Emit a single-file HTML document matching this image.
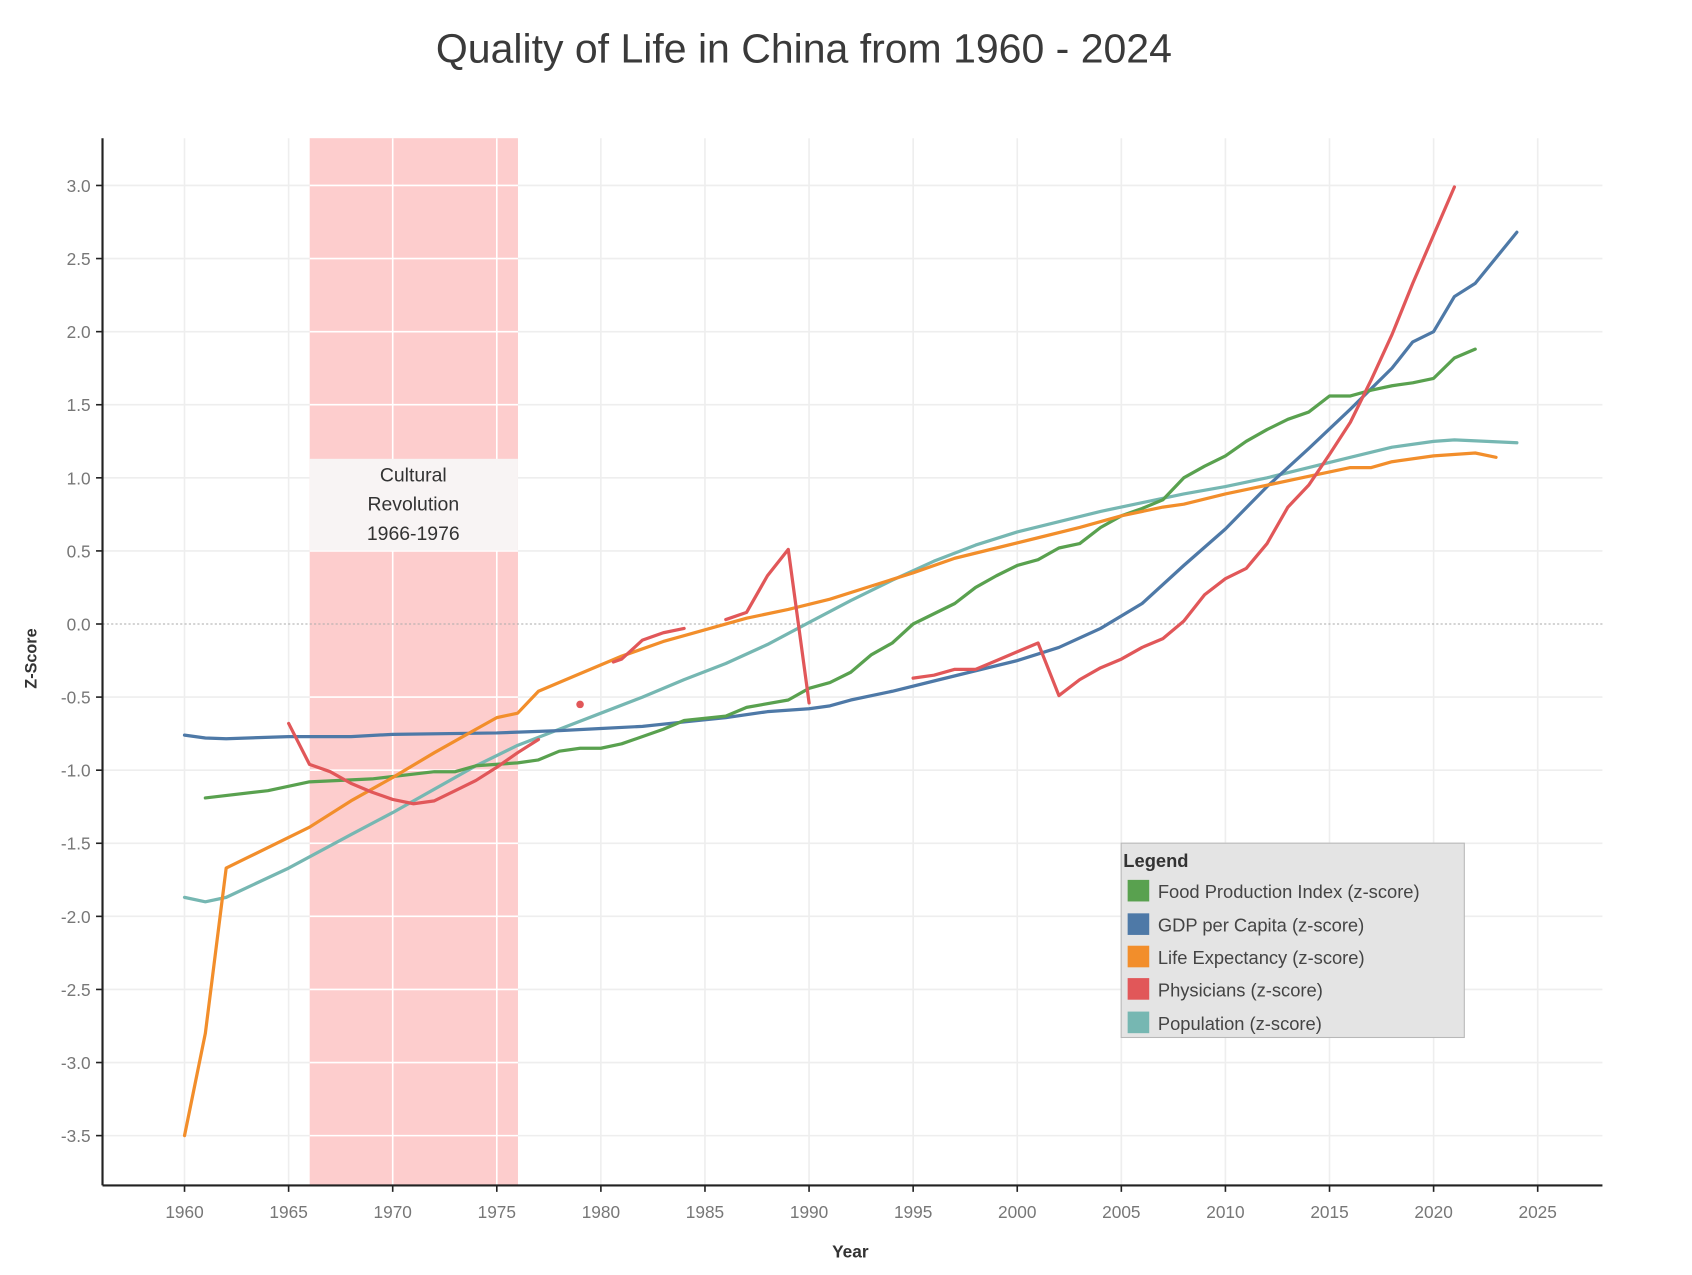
<!DOCTYPE html>
<html><head><meta charset="utf-8"><style>
html,body{margin:0;padding:0;background:#fff;}
svg{display:block;}
</style></head><body>
<svg id="s" width="1692" height="1275" viewBox="0 0 1568 1181" preserveAspectRatio="none" xmlns="http://www.w3.org/2000/svg" font-family="'Liberation Sans', sans-serif">
<rect width="1568" height="1181" fill="#fff"/>
<text x="745" y="58" text-anchor="middle" font-size="38" fill="#3a3a3a">Quality of Life in China from 1960 - 2024</text>
<g id="grid"></g>
<rect x="287" y="128" width="193" height="970" fill="#fdcdcd"/>
<g id="grid2"></g>
<rect x="287" y="425" width="193" height="85" fill="#f8f4f4"/>
<text x="383" y="446" text-anchor="middle" font-size="18" fill="#333">Cultural</text>
<text x="383" y="473" text-anchor="middle" font-size="18" fill="#333">Revolution</text>
<text x="383" y="500" text-anchor="middle" font-size="18" fill="#333">1966-1976</text>
<line x1="95" y1="578" x2="1485" y2="578" stroke="#aaa" stroke-width="1" stroke-dasharray="2,2"/>
<g id="series" fill="none" stroke-width="3" stroke-linejoin="round" stroke-linecap="round"></g>
<line x1="95" y1="128" x2="95" y2="1098" stroke="#222" stroke-width="2"/>
<line x1="95" y1="1098" x2="1485" y2="1098" stroke="#222" stroke-width="2"/>
<g id="ticks"></g>
<text x="788" y="1165" text-anchor="middle" font-size="16" font-weight="bold" fill="#333">Year</text>
<text transform="translate(34,610) rotate(-90)" text-anchor="middle" font-size="15" font-weight="bold" fill="#333">Z-Score</text>
<rect x="1039" y="781" width="318" height="180" fill="#e4e4e4" stroke="#b8b8b8"/>
<text x="1041" y="803" font-size="17" font-weight="bold" fill="#333">Legend</text>
<rect x="1045" y="815" width="20" height="20" fill="#59a14f"/>
<text x="1073" y="832" font-size="17" fill="#444">Food Production Index (z-score)</text>
<rect x="1045" y="846" width="20" height="20" fill="#4e79a7"/>
<text x="1073" y="863" font-size="17" fill="#444">GDP per Capita (z-score)</text>
<rect x="1045" y="876" width="20" height="20" fill="#f28e2b"/>
<text x="1073" y="893" font-size="17" fill="#444">Life Expectancy (z-score)</text>
<rect x="1045" y="906" width="20" height="20" fill="#e15759"/>
<text x="1073" y="923" font-size="17" fill="#444">Physicians (z-score)</text>
<rect x="1045" y="937" width="20" height="20" fill="#76b7b2"/>
<text x="1073" y="954" font-size="17" fill="#444">Population (z-score)</text>
</svg>
<script>
var NS="http://www.w3.org/2000/svg";
function X(y){return 171+(y-1960)*(1425-171)/65;}
function Y(v){return 578-v*135.4;}
function el(p,t,a,txt){var e=document.createElementNS(NS,t);for(var k in a)e.setAttribute(k,a[k]);if(txt!=null)e.textContent=txt;document.getElementById(p).appendChild(e);return e;}
for(var y=1960;y<=2025;y+=5){var gx=X(y);el(y>=1966&&y<=1976?'grid2':'grid','line',{x1:gx,y1:128,x2:gx,y2:1098,stroke:y>=1966&&y<=1976?'#fff':'#eee','stroke-width':1.5});
el('ticks','line',{x1:gx,y1:1098,x2:gx,y2:1104,stroke:'#222','stroke-width':1.5});
el('ticks','text',{x:gx,y:1128,'text-anchor':'middle','font-size':16,fill:'#777'},String(y));}
for(var v=-3.5;v<=3.01;v+=0.5){var gy=Y(v);if(Math.abs(v)>0.01){el('grid','line',{x1:95,y1:gy,x2:1485,y2:gy,stroke:'#eee','stroke-width':1.5});el('grid2','line',{x1:287,y1:gy,x2:480,y2:gy,stroke:'#fff','stroke-width':1.5});}
el('ticks','line',{x1:89,y1:gy,x2:95,y2:gy,stroke:'#222','stroke-width':1.5});
el('ticks','text',{x:84,y:gy+6,'text-anchor':'end','font-size':16,fill:'#777'},v.toFixed(1));}
function path(d,c){var s='';for(var i=0;i<d.length;i+=2)s+=(i?'L':'M')+X(d[i]).toFixed(1)+','+Y(d[i+1]).toFixed(1);el('series','path',{d:s,stroke:c});}
path([1960,-1.87,1961,-1.90,1962,-1.87,1965,-1.67,1968,-1.44,1970,-1.29,1972,-1.13,1974,-0.97,1976,-0.83,1978,-0.72,1980,-0.61,1982,-0.50,1984,-0.38,1986,-0.27,1988,-0.14,1990,0.01,1992,0.16,1994,0.30,1996,0.43,1998,0.54,2000,0.63,2002,0.70,2004,0.77,2006,0.83,2008,0.89,2010,0.94,2012,1.00,2014,1.07,2016,1.14,2018,1.21,2020,1.25,2021,1.26,2024,1.24],'#76b7b2');
path([1960,-0.76,1961,-0.78,1962,-0.785,1965,-0.77,1968,-0.77,1970,-0.755,1975,-0.745,1978,-0.73,1980,-0.715,1982,-0.70,1984,-0.67,1986,-0.64,1988,-0.60,1990,-0.58,1991,-0.56,1992,-0.52,1994,-0.46,1996,-0.39,1998,-0.32,2000,-0.25,2002,-0.16,2004,-0.03,2006,0.14,2008,0.40,2010,0.65,2012,0.94,2014,1.20,2016,1.47,2018,1.75,2019,1.93,2020,2.00,2021,2.24,2022,2.33,2024,2.68],'#4e79a7');
path([1961,-1.19,1964,-1.14,1966,-1.08,1969,-1.06,1972,-1.01,1973,-1.01,1974,-0.97,1976,-0.95,1977,-0.93,1978,-0.87,1979,-0.85,1980,-0.85,1981,-0.82,1983,-0.72,1984,-0.66,1986,-0.63,1987,-0.57,1989,-0.52,1990,-0.44,1991,-0.40,1992,-0.33,1993,-0.21,1994,-0.13,1995,0.00,1997,0.14,1998,0.25,1999,0.33,2000,0.40,2001,0.44,2002,0.52,2003,0.55,2004,0.66,2005,0.74,2006,0.79,2007,0.85,2008,1.00,2009,1.08,2010,1.15,2011,1.25,2012,1.33,2013,1.40,2014,1.45,2015,1.56,2016,1.56,2017,1.60,2018,1.63,2019,1.65,2020,1.68,2021,1.82,2022,1.88],'#59a14f');
path([1960,-3.50,1961,-2.80,1962,-1.67,1963,-1.60,1966,-1.39,1968,-1.21,1970,-1.05,1972,-0.88,1974,-0.72,1975,-0.64,1976,-0.61,1977,-0.46,1979,-0.34,1981,-0.22,1983,-0.12,1985,-0.04,1987,0.04,1989,0.10,1991,0.17,1993,0.26,1995,0.35,1997,0.45,1999,0.52,2001,0.59,2003,0.66,2005,0.74,2007,0.80,2008,0.82,2010,0.89,2012,0.95,2014,1.01,2016,1.07,2017,1.07,2018,1.11,2020,1.15,2022,1.17,2023,1.14],'#f28e2b');
var R='#e15759';
path([1965,-0.68,1966,-0.96,1967,-1.01,1968,-1.09,1969,-1.15,1970,-1.20,1971,-1.23,1972,-1.21,1973,-1.14,1974,-1.07,1975,-0.98,1976,-0.88,1977,-0.79],R);
path([1980.6,-0.26,1981,-0.24,1982,-0.11,1983,-0.06,1984,-0.03],R);
path([1986,0.03,1987,0.08,1988,0.33,1989,0.51,1990,-0.54],R);
path([1995,-0.37,1996,-0.35,1997,-0.31,1998,-0.31,1999,-0.25,2000,-0.19,2001,-0.13,2002,-0.49,2003,-0.38,2004,-0.30,2005,-0.24,2006,-0.16,2007,-0.10,2008,0.02,2009,0.20,2010,0.31,2011,0.38,2012,0.55,2013,0.80,2014,0.95,2015,1.16,2016,1.38,2017,1.67,2018,1.98,2019,2.33,2020,2.66,2021,2.99],R);
el('series','circle',{cx:X(1979),cy:Y(-0.55),r:3.5,fill:R,stroke:'none'});
</script>
</body></html>
